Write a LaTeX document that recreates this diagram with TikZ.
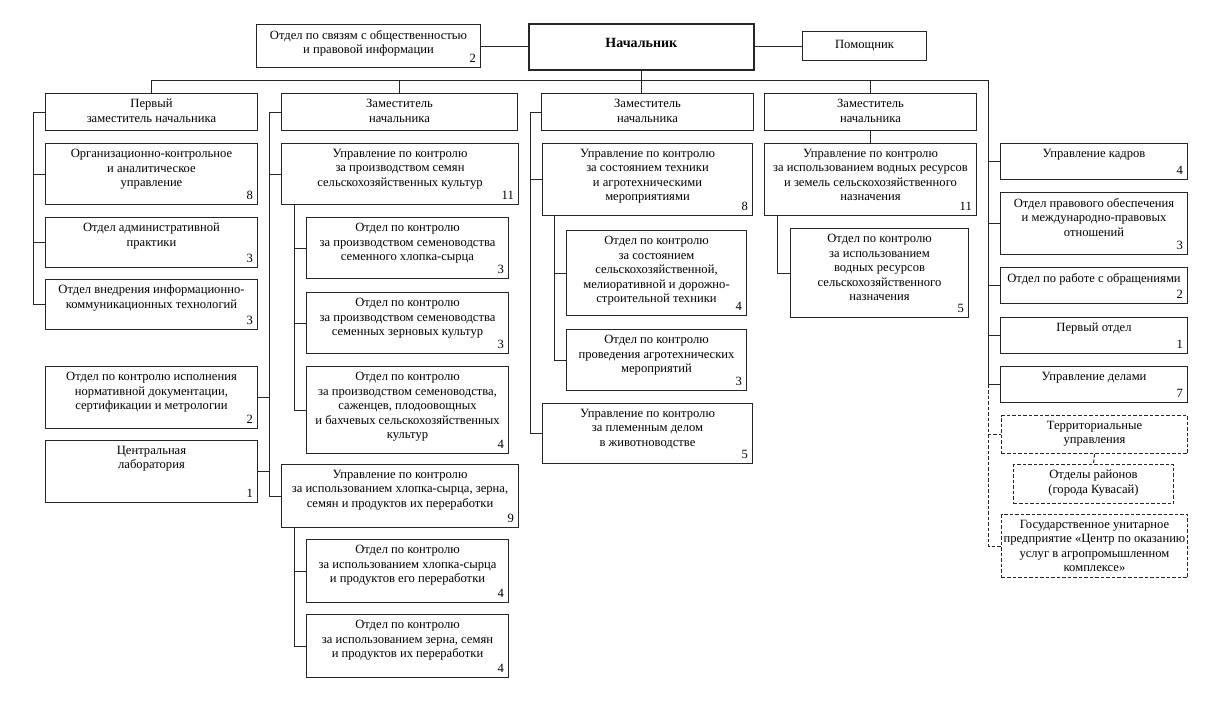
\documentclass[tikz,border=0pt]{standalone}
\usepackage{fontspec}
\setmainfont{Liberation Serif}
\tikzset{
  bx/.style={draw=black!85,line width=1pt,inner sep=0pt},
  dbx/.style={dash pattern=on 3.5pt off 2pt,line width=1pt},
  tx/.style={font=\fontsize{12.6}{14.5}\selectfont,align=center,inner xsep=0pt,inner ysep=6pt},
  nm/.style={font=\fontsize{12.6}{14.5}\selectfont,inner sep=0pt},
  ln/.style={draw=black!85,line width=1pt},
  dln/.style={draw=black!85,line width=1pt,dash pattern=on 3.5pt off 2pt}
}
\newcommand\ob[8][]{%
  \node[bx,#1,minimum width={(#5-#3)*1pt},minimum height={(#6-#4)*1pt},anchor=north west] (#2) at (#3,#4) {};
  \node[tx,anchor=north] (#2-t) at (#2.north) {#7};
  \if\relax\detokenize{#8}\relax\else
  \node[nm,anchor=base east] (#2-n) at ([xshift=-5pt,yshift=6pt]#2.south east) {#8};
  \fi
}
\begin{document}
\begin{tikzpicture}[x=1pt,y=-1pt]
\useasboundingbox[fill=white] (0,0) rectangle (1228,705);
% top row
\ob{pr}{256}{24}{480}{67}{Отдел по связям с общественностью\\и правовой информации}{2}
\node[bx,line width=1.7pt,minimum width=225pt,minimum height=46pt,anchor=north west] (boss) at (528,23) {};
\node[tx,inner ysep=3pt,font=\fontsize{14}{16}\selectfont\bfseries] (boss-t) at ([yshift=4pt]boss.center) {Начальник};
\node[bx,minimum width=124pt,minimum height=29pt,anchor=north west] (pom) at (802,31) {};
\node[tx,inner ysep=3pt] (pom-t) at (pom.center) {Помощник};
% deputies
\ob{d1}{45}{93}{257}{130}{Первый\\заместитель начальника}{}
\ob{d2}{281}{93}{517}{130}{Заместитель\\начальника}{}
\ob{d3}{541}{93}{753}{130}{Заместитель\\начальника}{}
\ob{d4}{764}{93}{976}{130}{Заместитель\\начальника}{}
% first deputy
\ob{org}{45}{143}{257}{204}{Организационно-контрольное\\и аналитическое\\управление}{8}
\ob{adm}{45}{217}{257}{267}{Отдел административной\\практики}{3}
\ob{ikt}{45}{279}{257}{329}{Отдел внедрения информационно-\\коммуникационных технологий}{3}
% second deputy
\ob{norm}{45}{366}{257}{428}{Отдел по контролю исполнения\\нормативной документации,\\сертификации и метрологии}{2}
\ob{lab}{45}{440}{257}{502}{Центральная\\лаборатория}{1}
\ob{seeds}{281}{143}{518}{204}{Управление по контролю\\за производством семян\\сельскохозяйственных культур}{11}
\ob{s1}{306}{217}{508}{278}{Отдел по контролю\\за производством семеноводства\\семенного хлопка-сырца}{3}
\ob{s2}{306}{292}{508}{353}{Отдел по контролю\\за производством семеноводства\\семенных зерновых культур}{3}
\ob{s3}{306}{366}{508}{453}{Отдел по контролю\\за производством семеноводства,\\саженцев, плодоовощных\\и бахчевых сельскохозяйственных\\культур}{4}
\ob{cot}{281}{464}{518}{527}{Управление по контролю\\за использованием хлопка-сырца, зерна,\\семян и продуктов их переработки}{9}
\ob{c1}{306}{539}{508}{602}{Отдел по контролю\\за использованием хлопка-сырца\\и продуктов его переработки}{4}
\ob{c2}{306}{614}{508}{677}{Отдел по контролю\\за использованием зерна, семян\\и продуктов их переработки}{4}
% third deputy
\ob{tech}{542}{143}{752}{215}{Управление по контролю\\за состоянием техники\\и агротехническими\\мероприятиями}{8}
\ob{t1}{566}{230}{746}{315}{Отдел по контролю\\за состоянием\\сельскохозяйственной,\\мелиоративной и дорожно-\\строительной техники}{4}
\ob{t2}{566}{329}{746}{390}{Отдел по контролю\\проведения агротехнических\\мероприятий}{3}
\ob{breed}{542}{403}{752}{463}{Управление по контролю\\за племенным делом\\в животноводстве}{5}
% fourth deputy
\ob{water}{764}{143}{976}{215}{Управление по контролю\\за использованием водных ресурсов\\и земель сельскохозяйственного\\назначения}{11}
\ob{w1}{790}{228}{968}{317}{Отдел по контролю\\за использованием\\водных ресурсов\\сельскохозяйственного\\назначения}{5}
% right column
\ob{kadr}{1000}{143}{1187}{179}{Управление кадров}{4}
\ob{prav}{1000}{192}{1187}{254}{Отдел правового обеспечения\\и международно-правовых\\отношений}{3}
\ob{obr}{1000}{267}{1187}{303}{Отдел по работе с обращениями}{2}
\ob{perv}{1000}{317}{1187}{353}{Первый отдел}{1}
\ob{del}{1000}{366}{1187}{402}{Управление делами}{7}
\ob[dbx]{terr}{1001}{415}{1187}{453}{Территориальные\\управления}{}
\ob[dbx]{rayon}{1013}{464}{1173}{503}{Отделы районов\\(города Кувасай)}{}
\ob[dbx]{gup}{1001}{514}{1187}{577}{Государственное унитарное\\предприятие «Центр по оказанию\\услуг в агропромышленном\\комплексе»}{}
% connectors
\coordinate (busR) at (988,80);
\draw[ln] (pr.east) -- (pr.east -| boss.west);
\draw[ln] (pom.west -| boss.east) -- (pom.west);
\draw[ln] (boss.south) -- (boss.south |- d3.north);
\draw[ln] (d1.north) |- (busR) -- (busR |- del.west);
\draw[ln] (d2.north) -- (d2.north |- busR);
\draw[ln] (d4.north) -- (d4.north |- busR);
% D1
\foreach \c in {org,adm,ikt} \draw[ln] (d1.west) -- ++(-12,0) |- (\c.west);
% D2
\foreach \c in {seeds,cot} \draw[ln] (d2.west) -- ++(-12,0) |- (\c.west);
\foreach \c in {norm,lab} \draw[ln] (d2.west) -- ++(-12,0) |- (\c.east);
\foreach \c in {s1,s2,s3} \draw[ln] ([xshift=13pt]seeds.south west) |- (\c.west);
\foreach \c in {c1,c2} \draw[ln] ([xshift=13pt]cot.south west) |- (\c.west);
% D3
\foreach \c in {tech,breed} \draw[ln] (d3.west) -- ++(-11,0) |- (\c.west);
\foreach \c in {t1,t2} \draw[ln] ([xshift=12pt]tech.south west) |- (\c.west);
% D4
\draw[ln] (d4.south) -- (water.north);
\draw[ln] ([xshift=13pt]water.south west) |- (w1.west);
% right column
\foreach \c in {kadr,prav,obr,perv,del} \draw[ln] (busR) |- (\c.west);
\foreach \c in {terr,gup} \draw[dln] (busR |- del.west) |- (\c.west);
\draw[dln] (terr.south) -- (rayon.north);
\end{tikzpicture}
\end{document}
